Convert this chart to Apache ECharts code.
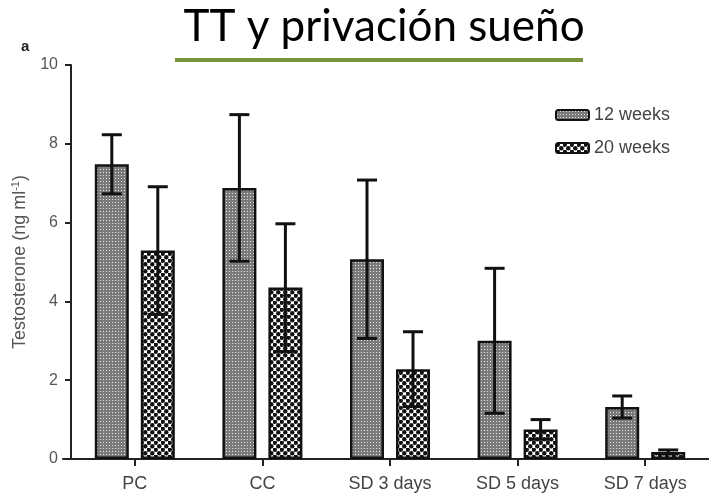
<!DOCTYPE html>
<html>
<head>
<meta charset="utf-8">
<script src="https://cdn.jsdelivr.net/npm/echarts@6/dist/echarts.min.js"></script>
<style>html,body{margin:0;padding:0;background:#fff}#c{width:709px;height:501px}</style>
</head>
<body>
<div id="c"></div>
<script>
// ---- data ----
const categories = ['PC', 'CC', 'SD 3 days', 'SD 5 days', 'SD 7 days'];
const weeks12 = [7.48, 6.88, 5.07, 3.00, 1.32];
const weeks12Err = [0.75, 1.86, 2.01, 1.84, 0.28];
const weeks20 = [5.29, 4.35, 2.28, 0.75, 0.18];
const weeks20Err = [1.62, 1.62, 0.95, 0.25, 0.05];
const yTicks = [0, 2, 4, 6, 8, 10];
const seriesNames = ['12 weeks', '20 weeks'];

// ---- styling ----
const BAR_W = 34, BAR_GAP = 12;
const FONT = 'Liberation Sans, Arial, sans-serif';

function makeFine() {
  const c = document.createElement('canvas'); c.width = 3; c.height = 3;
  const g = c.getContext('2d');
  g.fillStyle = '#7a7a7a'; g.fillRect(0, 0, 3, 3);
  g.fillStyle = '#e6e6e6'; g.fillRect(1, 1, 1, 1);
  return c;
}
function makeChecker() {
  const c = document.createElement('canvas'); c.width = 7; c.height = 7;
  const g = c.getContext('2d');
  g.fillStyle = '#ffffff'; g.fillRect(0, 0, 7, 7);
  g.fillStyle = '#111111';
  const pts = [[1.75, 1.75], [5.25, 5.25], [-1.75, -1.75], [5.25, -1.75], [-1.75, 5.25]];
  pts.forEach(p => { g.beginPath(); g.arc(p[0], p[1], 2.2, 0, Math.PI * 2); g.fill(); });
  return c;
}
const fills = [
  { image: makeFine(), repeat: 'repeat' },
  { image: makeChecker(), repeat: 'repeat' }
];

function errSeries(means, errs, offset) {
  return {
    type: 'custom',
    xAxisIndex: 0, yAxisIndex: 0,
    z: 5,
    silent: true,
    data: means.map((m, i) => [i, m, errs[i]]),
    renderItem: function (params, api) {
      const i = api.value(0), m = api.value(1), s = api.value(2);
      const top = api.coord([i, m + s]);
      const bot = api.coord([i, m - s]);
      const x = top[0] + offset;
      const half = 10;
      const st = { stroke: '#111', lineWidth: 3 };
      return {
        type: 'group',
        children: [
          { type: 'line', shape: { x1: x, y1: top[1], x2: x, y2: bot[1] }, style: st },
          { type: 'line', shape: { x1: x - half, y1: top[1], x2: x + half, y2: top[1] }, style: st },
          { type: 'line', shape: { x1: x - half, y1: bot[1], x2: x + half, y2: bot[1] }, style: st }
        ]
      };
    }
  };
}

const chart = echarts.init(document.getElementById('c'), null, { renderer: 'canvas' });
const off = (BAR_W + BAR_GAP) / 2;
chart.setOption({
  backgroundColor: '#ffffff',
  animation: false,
  title: [
    { text: 'TT y privación sueño', left: 379, textAlign: 'center', top: 0,
      textStyle: { fontFamily: 'Lato, sans-serif', fontSize: 44, fontWeight: 'normal', color: '#000' } },
    { text: 'a', left: 16, top: 34,
      textStyle: { fontFamily: FONT, fontSize: 15, fontWeight: 'bold', color: '#222' } }
  ],
  graphic: [
    { type: 'rect', shape: { x: 175, y: 58, width: 408, height: 4 }, style: { fill: '#77933C' } }
  ],
  legend: {
    data: seriesNames,
    orient: 'vertical',
    left: 550, top: 101,
    itemWidth: 33, itemHeight: 10, itemGap: 15,
    textStyle: { fontFamily: FONT, fontSize: 18, color: '#444' }
  },
  grid: [
    { left: 71, top: 65, width: 651, bottom: 42, containLabel: false },
    { left: 63, top: 65, right: 0, bottom: 42, containLabel: false }
  ],
  xAxis: [
    {
      type: 'category', gridIndex: 0, data: categories,
      axisLine: { show: true, lineStyle: { color: '#222', width: 2 } },
      axisTick: { show: true, alignWithLabel: true, length: 7, lineStyle: { color: '#222', width: 2 } },
      axisLabel: { fontFamily: FONT, fontSize: 18, color: '#444', margin: 16 }
    },
    {
      type: 'value', gridIndex: 1, min: 0, max: 1,
      axisLine: { show: true, onZero: false, lineStyle: { color: '#222', width: 2 } },
      axisTick: { show: false }, axisLabel: { show: false }, splitLine: { show: false }
    }
  ],
  yAxis: [
    {
      type: 'value', gridIndex: 0, min: yTicks[0], max: yTicks[yTicks.length - 1], interval: 2,
      name: 'Testosterone (ng ml{sup|-1})',
      nameLocation: 'middle', nameGap: 36, nameRotate: 90,
      nameTextStyle: { fontFamily: FONT, fontSize: 18, color: '#555',
        rich: { sup: { fontFamily: FONT, fontSize: 11, color: '#555', verticalAlign: 'top', padding: [0, 0, 8, 0] } } },
      axisLine: { show: true, lineStyle: { color: '#222', width: 2 } },
      axisTick: { show: true, length: 6, lineStyle: { color: '#222', width: 2 } },
      axisLabel: { fontFamily: FONT, fontSize: 16, color: '#555', margin: 13 },
      splitLine: { show: false }
    },
    { type: 'value', gridIndex: 1, min: 0, max: 1, show: false }
  ],
  series: [
    {
      name: seriesNames[0], type: 'bar', xAxisIndex: 0, yAxisIndex: 0,
      data: weeks12, barWidth: BAR_W, barGap: (BAR_GAP / BAR_W * 100) + '%',
      itemStyle: { color: fills[0], borderColor: '#111', borderWidth: 2.5 }
    },
    {
      name: seriesNames[1], type: 'bar', xAxisIndex: 0, yAxisIndex: 0,
      data: weeks20, barWidth: BAR_W,
      itemStyle: { color: fills[1], borderColor: '#111', borderWidth: 2.5 }
    },
    errSeries(weeks12, weeks12Err, -off),
    errSeries(weeks20, weeks20Err, off)
  ]
});
</script>
</body>
</html>
